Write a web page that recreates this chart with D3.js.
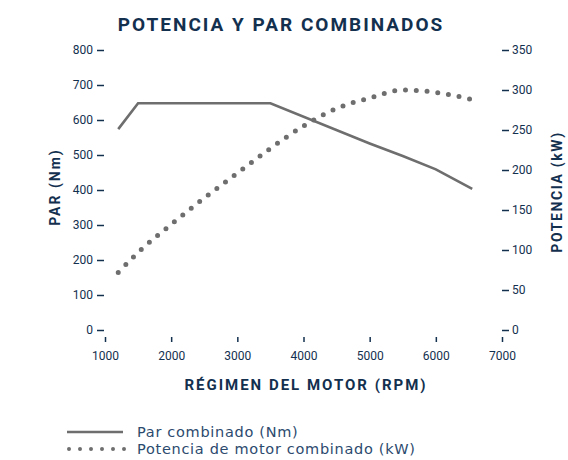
<!DOCTYPE html>
<html><head><meta charset="utf-8">
<script src="https://cdn.jsdelivr.net/npm/d3@7"></script>
<style>
body{margin:0;background:#fff;}
svg{display:block;font-family:Roboto, "Noto Sans", sans-serif;}
</style></head>
<body><svg id="c" width="568" height="460"></svg>
<script>
const torqueRpm = [1200, 1500, 3500, 5000, 5500, 6000, 6550];
const torqueNm  = [574, 648, 648, 533, 497, 459, 403];
const powerRpm  = [1200, 1500, 2000, 2500, 3000, 3500, 4000, 4500, 5000, 5500, 6000, 6550];
const powerKw   = [72, 97, 132, 165, 196, 227, 255, 277, 290, 300, 297, 288];
const xTicks = [1000, 2000, 3000, 4000, 5000, 6000, 7000];
const leftTicks = [0, 100, 200, 300, 400, 500, 600, 700, 800];
const rightTicks = [0, 50, 100, 150, 200, 250, 300, 350];
const legendLabels = ["Par combinado (Nm)", "Potencia de motor combinado (kW)"];

const svg = d3.select("#c");
const navy = "#13304f", grey = "#6e6e6e";

const x = d3.scaleLinear().domain([1000, 7000]).range([105, 502]);
const yL = d3.scaleLinear().domain([0, 800]).range([330, 50]);
const yR = d3.scaleLinear().domain([0, 350]).range([330, 50]);

// title
svg.append("text").attr("x", 281).attr("y", 31).attr("text-anchor", "middle")
  .attr("font-size", 19).attr("font-weight", 700).attr("letter-spacing", 2)
  .attr("fill", navy).text("POTENCIA Y PAR COMBINADOS");

// left axis
const gL = svg.append("g").attr("transform", "translate(104,0)")
  .call(d3.axisLeft(yL).tickValues(leftTicks).tickSize(7).tickPadding(4));
// right axis
const gR = svg.append("g").attr("transform", "translate(502,0)")
  .call(d3.axisRight(yR).tickValues(rightTicks).tickSize(7).tickPadding(3));
// x axis
const gX = svg.append("g").attr("transform", "translate(0,337)")
  .call(d3.axisBottom(x).tickValues(xTicks).tickFormat(d3.format("d")).tickSize(5).tickPadding(9));

[gL, gR, gX].forEach(g => {
  g.select(".domain").remove();
  g.selectAll(".tick line").attr("stroke", navy).attr("stroke-width", 1.5);
  g.selectAll(".tick text").attr("fill", navy).attr("font-size", 12)
    .attr("font-family", "Roboto, sans-serif");
});

// axis titles
svg.append("text").attr("x", 306).attr("y", 390).attr("text-anchor", "middle")
  .attr("font-size", 15).attr("font-weight", 700).attr("letter-spacing", 2)
  .attr("fill", navy).text("RÉGIMEN DEL MOTOR (RPM)");
svg.append("text").attr("transform", "translate(60,187) rotate(-90)").attr("text-anchor", "middle")
  .attr("font-size", 14).attr("font-weight", 700).attr("letter-spacing", 2)
  .attr("fill", navy).text("PAR (Nm)");
svg.append("text").attr("transform", "translate(562,192) rotate(-90)").attr("text-anchor", "middle")
  .attr("font-size", 14).attr("font-weight", 700).attr("letter-spacing", 1.6)
  .attr("fill", navy).text("POTENCIA (kW)");

// torque line
const torque = torqueRpm.map((r, i) => [r, torqueNm[i]]);
svg.append("path").datum(torque)
  .attr("d", d3.line().x(d => x(d[0])).y(d => yL(d[1])))
  .attr("fill", "none").attr("stroke", grey).attr("stroke-width", 2.6);

// power dotted
const power = powerRpm.map((r, i) => [r, powerKw[i]]);
svg.append("path").datum(power)
  .attr("d", d3.line().curve(d3.curveMonotoneX).x(d => x(d[0])).y(d => yR(d[1])))
  .attr("fill", "none").attr("stroke", grey).attr("stroke-width", 5)
  .attr("stroke-linecap", "round").attr("stroke-dasharray", "0,10.8");

// legend
const lg = svg.append("g");
lg.append("line").attr("x1", 67).attr("x2", 123).attr("y1", 432).attr("y2", 432)
  .attr("stroke", grey).attr("stroke-width", 2.6);
lg.append("line").attr("x1", 69).attr("x2", 125).attr("y1", 449).attr("y2", 449)
  .attr("stroke", grey).attr("stroke-width", 4).attr("stroke-linecap", "round")
  .attr("stroke-dasharray", "0,11");
lg.selectAll("text.l").data(legendLabels).join("text").attr("class", "l")
  .attr("x", 137).attr("y", (d, i) => 437 + i * 17)
  .attr("font-size", 14.5).attr("letter-spacing", 0.7)
  .attr("font-family", "'DejaVu Sans', sans-serif")
  .attr("fill", "#2c4a6e").text(d => d);
</script></body></html>
